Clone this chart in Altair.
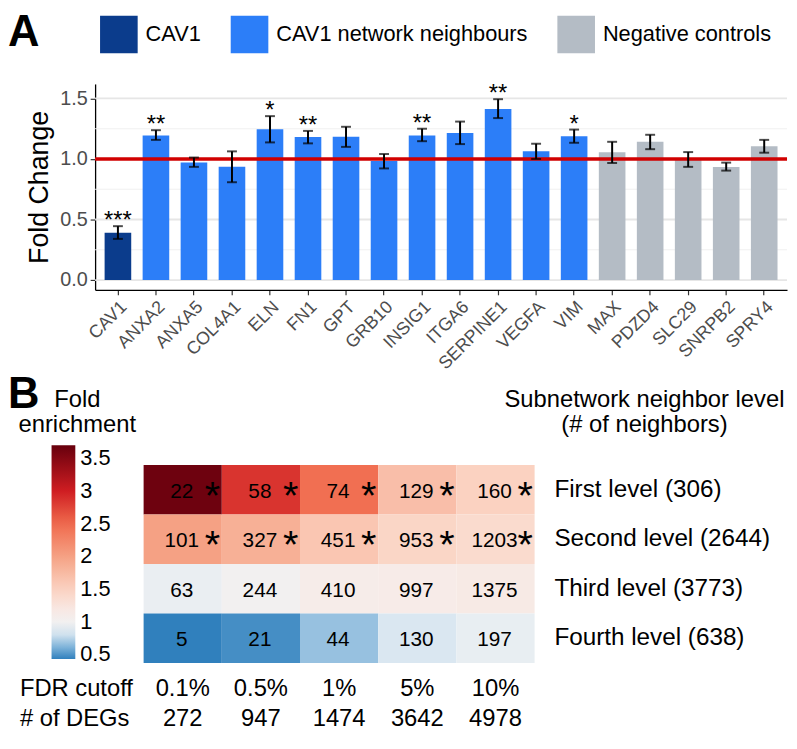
import altair as alt
import pandas as pd

# ---------------- Panel A data ----------------
genes = ["CAV1", "ANXA2", "ANXA5", "COL4A1", "ELN", "FN1", "GPT", "GRB10", "INSIG1",
         "ITGA6", "SERPINE1", "VEGFA", "VIM", "MAX", "PDZD4", "SLC29", "SNRPB2", "SPRY4"]
groups = ["CAV1"] + ["CAV1 network neighbours"] * 12 + ["Negative controls"] * 5
fold_change = [0.39, 1.195, 0.972, 0.935, 1.245, 1.182, 1.184, 0.983, 1.195,
               1.214, 1.413, 1.063, 1.187, 1.055, 1.142, 0.991, 0.933, 1.105]
err_low = [0.34, 1.158, 0.935, 0.808, 1.137, 1.129, 1.10, 0.922, 1.147,
           1.123, 1.338, 1.0, 1.134, 0.967, 1.081, 0.935, 0.904, 1.052]
err_high = [0.445, 1.238, 1.012, 1.063, 1.354, 1.232, 1.266, 1.041, 1.25,
            1.309, 1.494, 1.126, 1.243, 1.142, 1.2, 1.057, 0.97, 1.158]
stars = ["***", "**", "", "", "*", "**", "", "", "**", "", "**", "", "*", "", "", "", "", ""]
group_names = ["CAV1", "CAV1 network neighbours", "Negative controls"]
group_colors = ["#0b3c8c", "#2c7ef8", "#b4bcc5"]
major_grid = [0.0, 0.5, 1.0, 1.5]
minor_grid = [0.25, 0.75, 1.25]
y_ticks = [0.0, 0.5, 1.0, 1.5]
reference_line = [1.0]

# ---------------- Panel B data ----------------
levels = ["First level (306)", "Second level (2644)", "Third level (3773)", "Fourth level (638)"]
fdr_cutoffs = ["0.1%", "0.5%", "1%", "5%", "10%"]
n_degs = ["272", "947", "1474", "3642", "4978"]
overlap = [[22, 58, 74, 129, 160],
           [101, 327, 451, 953, 1203],
           [63, 244, 410, 997, 1375],
           [5, 21, 44, 130, 197]]
fold_enrichment = [[3.65, 2.85, 2.45, 1.70, 1.50],
                   [2.00, 1.85, 1.62, 1.45, 1.38],
                   [0.93, 1.00, 1.12, 1.14, 1.17],
                   [0.43, 0.48, 0.66, 0.85, 0.92]]
significant = [[True] * 5, [True] * 5, [False] * 5, [False] * 5]
color_stops = [0.43, 0.6, 0.75, 0.9, 1.0, 1.15, 1.5, 2.0, 2.5, 3.0, 3.7]
color_range = ["#3080bd", "#79b0d8", "#c3dbec", "#e6edf3", "#f2f0f0", "#f7ebe7",
               "#fbd2c1", "#f5a184", "#f06a4d", "#cf1d22", "#67000d"]
legend_values = [0.5, 1, 1.5, 2, 2.5, 3, 3.5]

FONT = "Liberation Sans"

# ---------------- Panel A ----------------
W_A, H_A = 699, 208
dfA = pd.DataFrame({"gene": genes, "group": groups, "fc": fold_change,
                    "lo": err_low, "hi": err_high, "star": stars})
xA = alt.X("gene:N", sort=genes, title=None,
           scale=alt.Scale(paddingInner=0.3, paddingOuter=0.25),
           axis=alt.Axis(labelAngle=-45, labelAlign="right", labelBaseline="top",
                         labelFontSize=18, labelColor="#4d4d4d", labelPadding=3,
                         labelOffset=0, tickSize=5, tickColor="#333333", tickWidth=1.2,
                         domainColor="black", domainWidth=1.3, grid=False))
yscale = alt.Scale(domain=[-0.081, 1.62], nice=False, zero=False)

grid_major = alt.Chart(pd.DataFrame({"v": major_grid})).mark_rule(
    color="#e6e6e6", strokeWidth=1.8).encode(y=alt.Y("v:Q", scale=yscale))
grid_minor = alt.Chart(pd.DataFrame({"v": minor_grid})).mark_rule(
    color="#f0f0f0", strokeWidth=1).encode(y=alt.Y("v:Q", scale=yscale))

bars = alt.Chart(dfA).mark_bar().encode(
    x=xA,
    y=alt.Y("fc:Q", scale=yscale,
            axis=alt.Axis(values=y_ticks, format=".1f", labelFontSize=20,
                          labelColor="#4d4d4d", labelPadding=3, tickSize=5,
                          tickColor="#333333", tickWidth=1.2, domainColor="black",
                          domainWidth=1.3, grid=False, title="Fold Change",
                          titleFontSize=27, titleFontWeight="normal",
                          titleColor="black", titlePadding=6)),
    y2=alt.datum(0),
    color=alt.Color("group:N",
                    scale=alt.Scale(domain=group_names, range=group_colors),
                    legend=alt.Legend(orient="none", legendX=5, legendY=-69,
                                      direction="horizontal", title=None,
                                      symbolType="square", symbolSize=1444,
                                      symbolStrokeWidth=0, symbolOpacity=1,
                                      labelFontSize=22, labelOffset=8,
                                      columnPadding=30, labelLimit=400,
                                      labelColor="black", padding=0)),
)
red_line = alt.Chart(pd.DataFrame({"v": reference_line})).mark_rule(
    color="#d10000", strokeWidth=3.5).encode(y=alt.Y("v:Q", scale=yscale))
err_rule = alt.Chart(dfA).mark_rule(color="black", strokeWidth=2).encode(
    x=alt.X("gene:N", sort=genes), y=alt.Y("lo:Q", scale=yscale), y2="hi:Q")
cap_lo = alt.Chart(dfA).mark_tick(color="black", size=10, thickness=2).encode(
    x=alt.X("gene:N", sort=genes), y=alt.Y("lo:Q", scale=yscale))
cap_hi = alt.Chart(dfA).mark_tick(color="black", size=10, thickness=2).encode(
    x=alt.X("gene:N", sort=genes), y=alt.Y("hi:Q", scale=yscale))
star_txt = alt.Chart(dfA[dfA["star"] != ""]).mark_text(
    fontSize=24, baseline="alphabetic", dy=2, color="black").encode(
    x=alt.X("gene:N", sort=genes), y=alt.Y("hi:Q", scale=yscale), text="star:N")
label_A = alt.Chart(pd.DataFrame({"t": ["A"]})).mark_text(
    fontSize=44, fontWeight="bold", align="left", baseline="alphabetic",
    color="black").encode(x=alt.value(-88), y=alt.value(-38), text="t:N")

panelA = alt.layer(grid_major, grid_minor, bars, red_line, err_rule, cap_lo, cap_hi,
                   star_txt, label_A).properties(width=W_A, height=H_A)

# ---------------- Panel B ----------------
X0 = 49            # heatmap left edge relative to the shared left origin
CELLS_W = 395
W_B, H_B = X0 + CELLS_W, 200
rows = []
for i, lv in enumerate(levels):
    for j, fd in enumerate(fdr_cutoffs):
        rows.append({"level": lv, "fdr": fd, "n": str(overlap[i][j]),
                     "fe": fold_enrichment[i][j], "sig": significant[i][j]})
dfB = pd.DataFrame(rows)
xB = alt.X("fdr:N", sort=fdr_cutoffs, axis=None,
           scale=alt.Scale(paddingInner=0, paddingOuter=0, range=[X0, X0 + CELLS_W]))
yB = alt.Y("level:N", sort=levels, axis=None,
           scale=alt.Scale(paddingInner=0, paddingOuter=0))

cells = alt.Chart(dfB).mark_rect().encode(
    x=xB, y=yB,
    color=alt.Color("fe:Q",
                    scale=alt.Scale(type="linear", domain=color_stops, range=color_range,
                                    interpolate="rgb", clamp=True),
                    legend=alt.Legend(orient="none", legendX=-44, legendY=-20,
                                      direction="vertical", title=None,
                                      gradientLength=216, gradientThickness=24,
                                      gradientStrokeWidth=0, values=legend_values,
                                      labelExpr="format(datum.value, '~g')",
                                      labelFontSize=22,
                                      labelColor="black", labelOffset=5,
                                      labelOverlap=False, padding=0)),
)
cell_n = alt.Chart(dfB).mark_text(fontSize=21, baseline="middle", dx=-1, dy=2,
                                  color="black").encode(x=xB, y=yB, text="n:N")
cell_star = alt.Chart(dfB[dfB["sig"]]).mark_text(
    fontSize=40, baseline="alphabetic", dx=30, dy=19, color="black").encode(
    x=xB, y=yB, text=alt.value("*"))
row_lab = alt.Chart(pd.DataFrame({"level": levels})).mark_text(
    fontSize=24.5, align="left", baseline="middle", color="black").encode(
    y=yB, x=alt.value(W_B + 20), text="level:N")
fdr_lab = alt.Chart(pd.DataFrame({"fdr": fdr_cutoffs})).mark_text(
    fontSize=24, align="center", baseline="alphabetic", color="black").encode(
    x=xB, y=alt.value(H_B + 33), text="fdr:N")
deg_lab = alt.Chart(pd.DataFrame({"fdr": fdr_cutoffs, "d": n_degs})).mark_text(
    fontSize=24, align="center", baseline="alphabetic", color="black").encode(
    x=xB, y=alt.value(H_B + 64), text="d:N")
fdr_head = alt.Chart(pd.DataFrame({"t": ["FDR cutoff"]})).mark_text(
    fontSize=24, align="left", baseline="alphabetic", color="black").encode(
    x=alt.value(-76), y=alt.value(H_B + 33), text="t:N")
deg_head = alt.Chart(pd.DataFrame({"t": ["# of DEGs"]})).mark_text(
    fontSize=24, align="left", baseline="alphabetic", color="black").encode(
    x=alt.value(-76), y=alt.value(H_B + 64), text="t:N")
sub_t1 = alt.Chart(pd.DataFrame({"t": ["Subnetwork neighbor level"]})).mark_text(
    fontSize=24, align="center", baseline="alphabetic", color="black").encode(
    x=alt.value(W_B + 111), y=alt.value(-59), text="t:N")
sub_t2 = alt.Chart(pd.DataFrame({"t": ["(# of neighbors)"]})).mark_text(
    fontSize=24, align="center", baseline="alphabetic", color="black").encode(
    x=alt.value(W_B + 111), y=alt.value(-33), text="t:N")
leg_t1 = alt.Chart(pd.DataFrame({"t": ["Fold"]})).mark_text(
    fontSize=24, align="center", baseline="alphabetic", color="black").encode(
    x=alt.value(-18), y=alt.value(-59), text="t:N")
leg_t2 = alt.Chart(pd.DataFrame({"t": ["enrichment"]})).mark_text(
    fontSize=24, align="center", baseline="alphabetic", color="black").encode(
    x=alt.value(-18), y=alt.value(-33), text="t:N")
label_B = alt.Chart(pd.DataFrame({"t": ["B"]})).mark_text(
    fontSize=44, fontWeight="bold", align="left", baseline="alphabetic",
    color="black").encode(x=alt.value(-88), y=alt.value(-58), text="t:N")

panelB = alt.layer(cells, cell_n, cell_star, row_lab, fdr_lab, deg_lab, fdr_head,
                   deg_head, sub_t1, sub_t2, leg_t1, leg_t2, label_B).properties(
    width=W_B, height=H_B)

chart = alt.concat(panelA, panelB, columns=1, spacing=0, align="none",
                   bounds="full").resolve_scale(
    color="independent", x="independent", y="independent").resolve_legend(
    color="independent").properties(padding=0).configure(
    font=FONT).configure_view(stroke=None)

chart.save("out.html", embed_options={"renderer": "svg", "actions": False})
